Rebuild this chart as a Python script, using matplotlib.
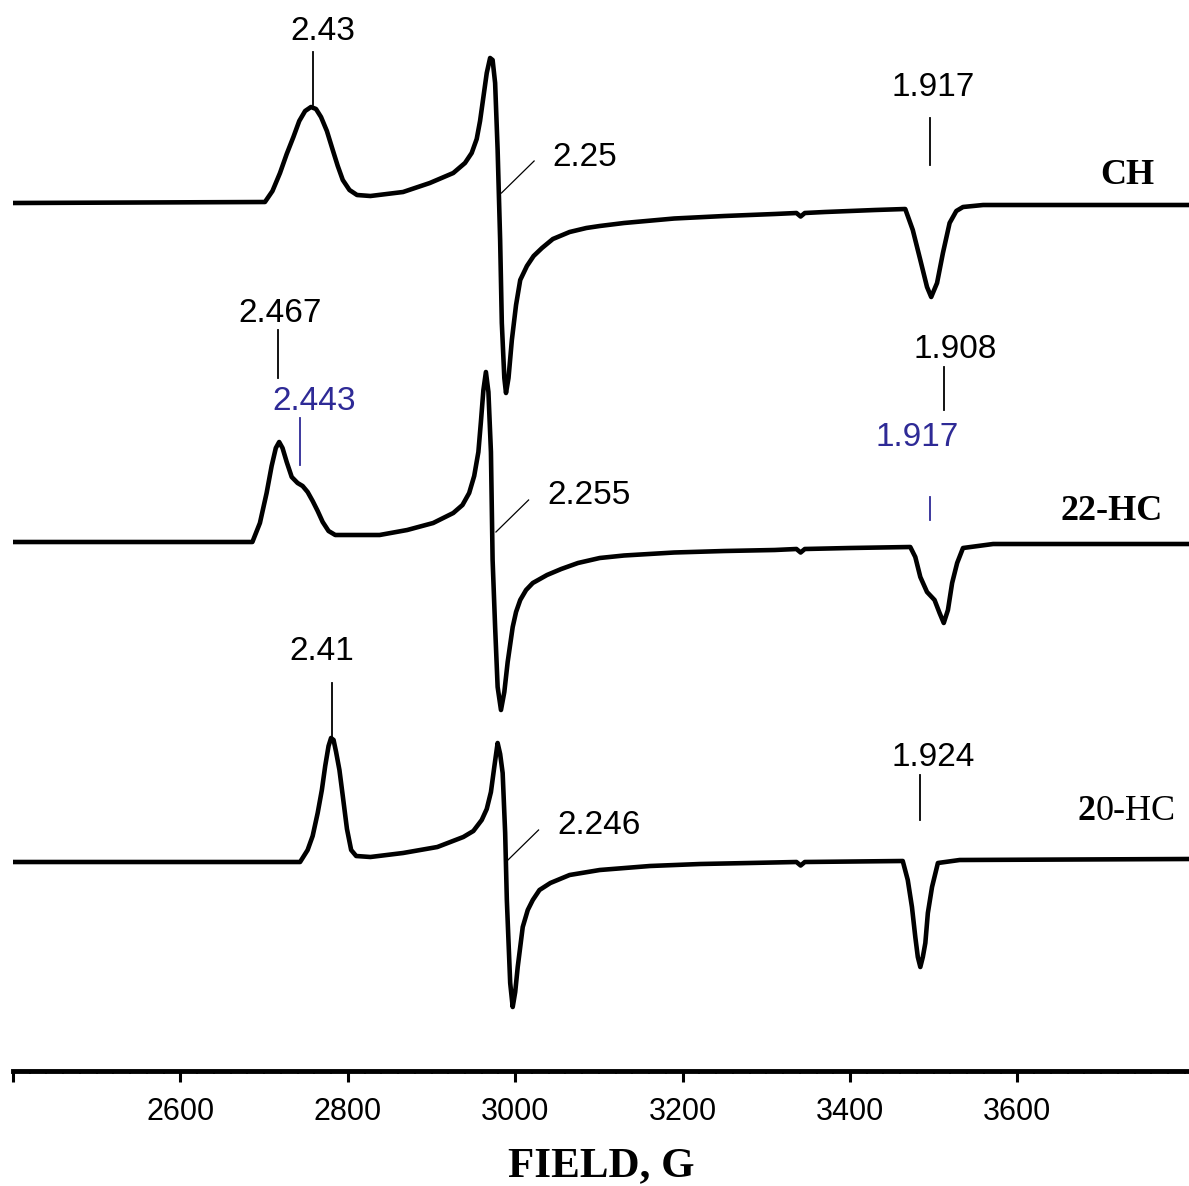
import matplotlib
matplotlib.use("Agg")
import matplotlib.pyplot as plt
from matplotlib.ticker import MultipleLocator

# EPR spectra, field in G, signal in arbitrary units
freq_ghz = 9.38

ch_field = [2400, 2701, 2710, 2719, 2727, 2735, 2742, 2749, 2756, 2762,
            2768, 2775, 2782, 2788, 2794, 2802, 2811, 2827, 2866, 2898,
            2926, 2940, 2948, 2954, 2958, 2962, 2966, 2970, 2973, 2976,
            2979, 2982, 2984, 2987, 2989, 2992, 2996, 3001, 3006, 3014,
            3022, 3032, 3045, 3065, 3085, 3101, 3130, 3190, 3250, 3310,
            3336, 3341, 3346, 3370, 3430, 3466, 3475, 3484, 3492, 3497,
            3504, 3511, 3519, 3527, 3535, 3559, 3805]
ch_signal = [0, 0.1, 1.2, 3.0, 4.9, 6.6, 8.2, 9.2, 9.6, 9.4,
             8.6, 7.2, 5.3, 3.7, 2.3, 1.3, 0.8, 0.7, 1.1, 2.0,
             3.0, 4.0, 5.0, 6.4, 8.2, 10.6, 13.0, 14.5, 14.3, 12.0,
             5.3, -3.7, -12.0, -17.5, -19.0, -17.5, -13.7, -10.2, -7.7, -6.3,
             -5.3, -4.5, -3.6, -2.9, -2.5, -2.3, -2.0, -1.55, -1.3, -1.1,
             -1.0, -1.35, -1.0, -0.9, -0.7, -0.6, -2.7, -5.7, -8.4, -9.4,
             -8.0, -5.0, -2.0, -0.8, -0.4, -0.2, -0.2]

hc22_field = [2400, 2686, 2695, 2703, 2709, 2714, 2718, 2722, 2727, 2733,
              2740, 2746, 2752, 2758, 2764, 2770, 2777, 2785, 2838, 2871,
              2902, 2926, 2937, 2945, 2951, 2956, 2959, 2962, 2965, 2968,
              2971, 2973, 2976, 2979, 2983, 2987, 2991, 2997, 3001, 3006,
              3013, 3021, 3038, 3055, 3075, 3101, 3130, 3190, 3250, 3310,
              3336, 3341, 3346, 3400, 3472, 3478, 3484, 3492, 3501, 3507,
              3512, 3517, 3522, 3528, 3535, 3571, 3805]
hc22_signal = [0, 0, 1.9, 4.9, 7.6, 9.4, 10.0, 9.4, 8.0, 6.5,
               5.9, 5.6, 5.0, 4.1, 3.1, 2.0, 1.1, 0.7, 0.7, 1.2,
               1.9, 2.9, 3.7, 4.9, 6.6, 9.0, 12.0, 15.2, 17.0, 15.0,
               9.0, -1.8, -8.5, -14.5, -16.8, -15.0, -12.0, -8.5, -7.0, -5.8,
               -4.8, -4.1, -3.3, -2.7, -2.1, -1.6, -1.35, -1.05, -0.9, -0.8,
               -0.7, -1.05, -0.7, -0.6, -0.5, -1.5, -3.5, -5.0, -5.8, -7.1,
               -8.1, -6.8, -4.1, -2.1, -0.6, -0.2, -0.2]

hc20_field = [2400, 2743, 2752, 2758, 2764, 2769, 2773, 2777, 2780, 2783,
              2786, 2790, 2794, 2799, 2804, 2810, 2827, 2866, 2907, 2938,
              2950, 2960, 2966, 2971, 2975, 2979, 2982, 2985, 2988, 2990,
              2994, 2997, 3000, 3003, 3009, 3015, 3021, 3029, 3042, 3065,
              3101, 3161, 3221, 3280, 3336, 3341, 3346, 3463, 3469, 3474,
              3478, 3481, 3484, 3487, 3490, 3493, 3498, 3505, 3531, 3805]
hc20_signal = [0, 0, 1.2, 2.6, 4.9, 7.2, 9.6, 11.6, 12.4, 12.2,
               11.0, 9.2, 6.6, 3.3, 1.2, 0.6, 0.5, 0.9, 1.5, 2.5,
               3.1, 4.2, 5.3, 7.0, 9.5, 11.9, 10.8, 8.9, 2.9, -3.8,
               -12.1, -14.5, -13.0, -10.5, -6.5, -4.8, -3.8, -2.8, -2.1, -1.3,
               -0.8, -0.4, -0.2, -0.1, 0, -0.35, 0, 0.1, -1.8, -4.5,
               -7.5, -9.5, -10.5, -9.5, -8.1, -5.1, -2.5, -0.1, 0.2, 0.3]

offsets = [86.8, 52.9, 20.9]

# g-value markers: (g, y_bottom, y_top, colour, label x shift, label y)
g_marks = [
    (2.43, 96.6, 101.9, "black", 12, 103.9),
    (1.917, 90.6, 95.3, "black", 3, 98.3),
    (2.467, 69.3, 74.1, "black", 2, 75.7),
    (2.443, 60.6, 65.3, "#2e2a96", 16, 66.9),
    (1.908, 66.1, 70.4, "black", 13, 72.2),
    (1.917, 55.1, 57.4, "#2e2a96", -16, 63.4),
    (2.41, 33.4, 38.8, "black", -12, 42.0),
    (1.924, 25.1, 29.6, "black", 16, 31.4),
]
mark_fmt = ["2.43", "1.917", "2.467", "2.443", "1.908", "1.917", "2.41", "1.924"]
# leader-line labels for the central line
g_leaders = [(2.25, 87.8), (2.255, 53.9), (2.246, 20.9)]
lead_fmt = ["2.25", "2.255", "2.246"]


def g_to_field(g):
    return 714.48 * freq_ghz / g


fig = plt.figure(figsize=(11.89, 11.86), dpi=100)
ax = fig.add_axes([13 / 1189, 115 / 1186, 1176 / 1189, 1071 / 1186])
ax.set_xlim(2400, 3805)
ax.set_ylim(0, 107.1)

for fld, sig, off in zip([ch_field, hc22_field, hc20_field],
                         [ch_signal, hc22_signal, hc20_signal], offsets):
    ax.plot(fld, [s + off for s in sig], color="black", lw=3.3,
            solid_joinstyle="round", solid_capstyle="round")

sans = ["Liberation Sans", "DejaVu Sans"]
serif = ["Liberation Serif", "DejaVu Serif"]

for (g, y0, y1, col, dx, ty), txt in zip(g_marks, mark_fmt):
    x = g_to_field(g)
    ax.plot([x, x], [y0, y1], color=col, lw=1.3)
    ax.text(x + dx, ty, txt, color=col, fontsize=24, family=sans,
            ha="center", va="center")

for (g, y0), txt in zip(g_leaders, lead_fmt):
    x = g_to_field(g) + 5
    ax.plot([x, x + 39], [y0, y0 + 3.2], color="black", lw=0.9)
    ax.text(x + 61, y0 + 3.6, txt, fontsize=24, family=sans, ha="left", va="center")

ax.text(3731, 89.5, "CH", fontsize=26, family=serif, weight="bold", ha="center", va="center")
ax.text(3713, 56.0, "22-HC", fontsize=26, family=serif, weight="bold", ha="center", va="center")
t2 = ax.text(3672, 25.9, "2", fontsize=26, family=serif, weight="bold", ha="left", va="center")
ax.annotate("0-HC", xy=(1, 0.5), xycoords=t2, fontsize=26, family=serif,
            ha="left", va="center")

for s in ["left", "right", "top"]:
    ax.spines[s].set_visible(False)
ax.spines["bottom"].set_linewidth(3.5)
ax.set_yticks([])
ax.set_xticks([2400, 2600, 2800, 3000, 3200, 3400, 3600])
ax.set_xticklabels(["", "2600", "2800", "3000", "3200", "3400", "3600"],
                   fontsize=22, family=sans)
ax.xaxis.set_minor_locator(MultipleLocator(20))
ax.tick_params(axis="x", which="major", length=8, width=2.2, pad=11, color="black")
ax.tick_params(axis="x", which="minor", length=2.5, width=1.2)
ax.set_xlabel("FIELD, G", fontsize=31, family=serif, weight="bold", labelpad=14)

fig.savefig("out.png", dpi=100)
